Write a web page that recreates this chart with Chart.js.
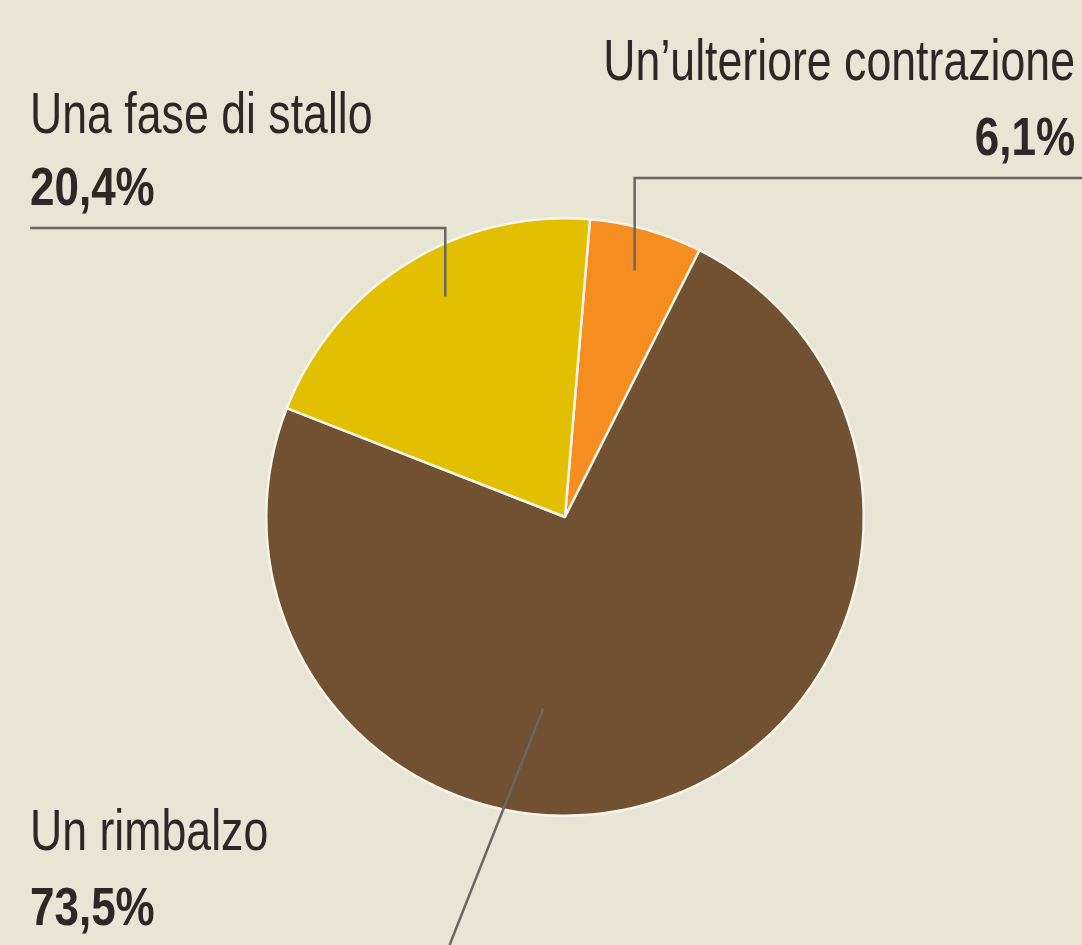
<!DOCTYPE html>
<html><head><meta charset="utf-8">
<script src="https://cdn.jsdelivr.net/npm/chart.js@4.4.0/dist/chart.umd.min.js"></script>
<style>html,body{margin:0;padding:0;background:#e8e5d5;}canvas{display:block;}</style>
</head><body>
<canvas id="c" width="1082" height="945"></canvas>
<script>
const categories = ["Un\u2019ulteriore contrazione", "Un rimbalzo", "Una fase di stallo"];
const values = [6.1, 73.5, 20.4];
const valueLabels = ["6,1%", "73,5%", "20,4%"];
const colors = ["#f58d20", "#715132", "#e2bf00"];

const FONT = '"Liberation Sans", Arial, sans-serif';

function drawText(ctx, txt, x, y, align, bold) {
  ctx.save();
  const sx = bold ? 0.83 : 0.77;
  ctx.font = (bold ? 'bold 53px ' : '58px ') + FONT;
  ctx.textAlign = align;
  ctx.translate(x, y);
  ctx.scale(sx, 1);
  ctx.fillText(txt, 0, 0);
  ctx.restore();
}

const labelsPlugin = {
  id: 'leaderLabels',
  afterDraw(chart) {
    const ctx = chart.ctx;
    const meta = chart.getDatasetMeta(0);
    const arc0 = meta.data[0];
    const cx = arc0.x, cy = arc0.y, r = arc0.outerRadius;
    const W = chart.width, H = chart.height;
    const polar = (deg, f) => {
      const a = deg * Math.PI / 180;
      return {x: cx + Math.sin(a) * r * f, y: cy - Math.cos(a) * r * f};
    };
    const midDeg = (i) => {
      const a = meta.data[i];
      return ((a.startAngle + a.endAngle) / 2 + Math.PI / 2) * 180 / Math.PI;
    };
    ctx.save();
    ctx.strokeStyle = '#6a6660';
    ctx.lineWidth = 2.5;
    const pO = polar(midDeg(0), 0.857);
    ctx.beginPath();
    ctx.moveTo(W, 178); ctx.lineTo(pO.x, 178); ctx.lineTo(pO.x, pO.y); ctx.stroke();
    const pY = polar(331.5, 0.84);
    ctx.beginPath();
    ctx.moveTo(30, 228); ctx.lineTo(pY.x, 228); ctx.lineTo(pY.x, pY.y); ctx.stroke();
    const pB = polar(186.5, 0.645);
    const dx = -93, dy = 235;
    const t = (H - pB.y) / dy;
    ctx.beginPath();
    ctx.moveTo(pB.x, pB.y); ctx.lineTo(pB.x + dx * t, H); ctx.stroke();

    ctx.fillStyle = '#2b2826';
    ctx.textBaseline = 'alphabetic';
    drawText(ctx, categories[0], 1075, 80, 'right', false);
    drawText(ctx, valueLabels[0], 1075, 155, 'right', true);
    drawText(ctx, categories[2], 30, 133, 'left', false);
    drawText(ctx, valueLabels[2], 30, 205, 'left', true);
    drawText(ctx, categories[1], 30, 850, 'left', false);
    drawText(ctx, valueLabels[1], 30, 925, 'left', true);
    ctx.restore();
  }
};

new Chart(document.getElementById('c'), {
  type: 'pie',
  data: {
    labels: categories,
    datasets: [{
      data: values,
      backgroundColor: colors,
      borderColor: '#f7f4ea',
      borderWidth: 2.5,
      hoverOffset: 0
    }]
  },
  options: {
    responsive: false,
    animation: false,
    rotation: 4.8,
    layout: {padding: {left: 265, right: 217, top: 217, bottom: 128}},
    plugins: {legend: {display: false}, tooltip: {enabled: false}}
  },
  plugins: [labelsPlugin]
});
</script>
</body></html>
